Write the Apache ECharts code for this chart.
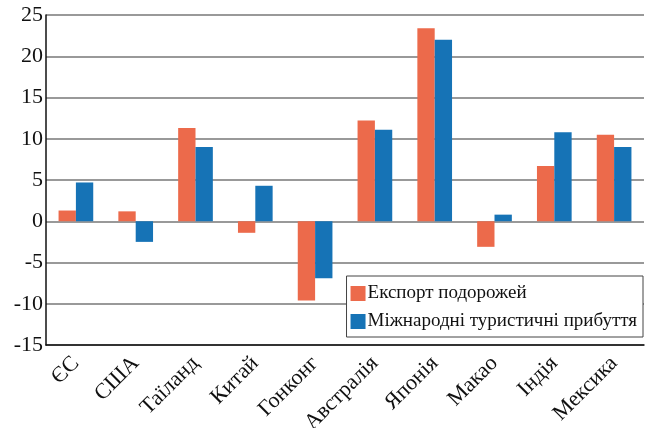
<!DOCTYPE html>
<html>
<head>
<meta charset="utf-8">
<script src="https://cdn.jsdelivr.net/npm/echarts@6/dist/echarts.min.js"></script>
<style>
  html, body { margin: 0; padding: 0; background: #fff; }
  #main { width: 645px; height: 428px; }
</style>
</head>
<body>
<div id="main"></div>
<script>
var countries = ['ЄС', 'США', 'Таїланд', 'Китай', 'Гонконг', 'Австралія', 'Японія', 'Макао', 'Індія', 'Мексика'];
var travelExports = [1.3, 1.2, 11.3, -1.4, -9.6, 12.2, 23.4, -3.1, 6.7, 10.5];
var touristArrivals = [4.7, -2.5, 9.0, 4.3, -6.9, 11.1, 22.0, 0.8, 10.8, 9.0];

var font = 'Liberation Serif';

var myChart = echarts.init(document.getElementById('main'));
myChart.setOption({
  animation: false,
  grid: { left: 46, right: 1, top: 15, bottom: 83, outerBoundsMode: 'none', containLabel: false },
  legend: {
    orient: 'vertical',
    right: 2,
    bottom: 91,
    itemWidth: 15,
    itemHeight: 15,
    itemGap: 9,
    itemStyle: { borderWidth: 0 },
    icon: 'rect',
    padding: [8, 6, 6, 4],
    borderColor: '#444',
    borderWidth: 1,
    backgroundColor: '#fff',
    textStyle: { fontFamily: font, fontSize: 19, color: '#111', padding: [0, 0, 0, -3] },
    data: ['Експорт подорожей', 'Міжнародні туристичні прибуття']
  },
  xAxis: {
    type: 'category',
    data: countries,
    axisLine: { onZero: false, lineStyle: { color: '#111', width: 1.5 } },
    axisTick: { inside: true, length: 4, lineStyle: { color: '#444' } },
    axisLabel: { rotate: 45, fontFamily: font, fontSize: 22, color: '#111', margin: 15 }
  },
  yAxis: {
    type: 'value',
    min: -15,
    max: 25,
    interval: 5,
    axisLine: { show: true, lineStyle: { color: '#111', width: 1.5 } },
    axisTick: { show: false },
    axisLabel: { fontFamily: font, fontSize: 22, color: '#111', margin: 3 },
    splitLine: { lineStyle: { color: '#777', width: 1.5 } }
  },
  series: [
    {
      name: 'Експорт подорожей',
      type: 'bar',
      data: travelExports,
      barGap: 0,
      barCategoryGap: '42%',
      itemStyle: { color: '#EC6A4B' }
    },
    {
      name: 'Міжнародні туристичні прибуття',
      type: 'bar',
      data: touristArrivals,
      itemStyle: { color: '#1673B6' }
    }
  ]
});
</script>
</body>
</html>
